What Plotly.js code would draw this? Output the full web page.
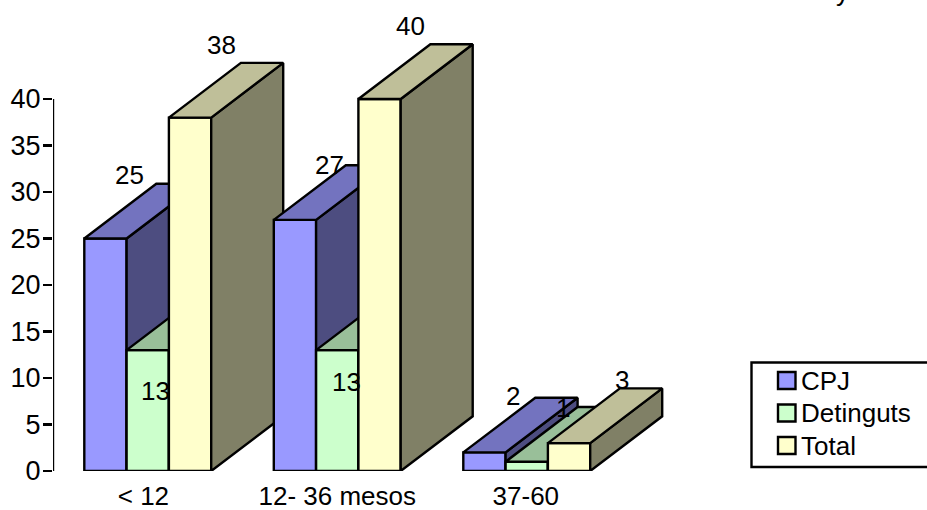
<!DOCTYPE html>
<html>
<head>
<meta charset="utf-8">
<script src="https://cdn.plot.ly/plotly-3.0.1.min.js"></script>
<style>html,body{margin:0;padding:0;background:#fff;overflow:hidden}</style>
</head>
<body>
<div id="chart" style="width:927px;height:510px"></div>
<script>
// Values per age group
const categories = ['< 12', '12- 36 mesos', '37-60'];
const seriesNames = ['CPJ', 'Detinguts', 'Total'];
const cpj = [25, 27, 2];
const detinguts = [13, 13, 1];
const total = [38, 40, 3];
const yTicks = [0, 5, 10, 15, 20, 25, 30, 35, 40];

// Face colours per series: front, top, side
const frontColors = ['#9999FF', '#CCFFCC', '#FFFFCC'];
const topColors = ['#7373BF', '#99BF99', '#BFBF99'];
const sideColors = ['#4D4D80', '#668066', '#808066'];

// Label nudges in pixels, per series and group
const labelDx = [[24, 35, 29], [7.5, 9, 36], [31.5, 31, 52.5]];
const labelDy = [[64, 55, 56], [-41, -32, 54], [73, 72.7, 63]];

// Geometry in axis units
const W = 927, H = 510, marginL = 53, marginB = 39;
const plotW = W - marginL, plotH = H - marginB;
const unitX = 189.5, unitY = 9.3;
const barW = 42.3 / unitX;
const depthX = 72 / unitX, depthY = 54.7 / unitY;
const tickPos = [0.477, 1.5, 2.495];
const fontFamily = 'Liberation Sans, Arial, sans-serif';
const fontSize = 26;
const ink = '#000000';
const edge = 2.4;

const values = [cpj, detinguts, total];
const traces = [];
const layout = {
  width: W, height: H,
  margin: {l: marginL, r: 0, t: 0, b: marginB, pad: 0},
  paper_bgcolor: '#fff', plot_bgcolor: 'rgba(0,0,0,0)',
  showlegend: false, barmode: 'overlay', hovermode: false,
  font: {family: fontFamily, size: fontSize, color: ink},
  annotations: [], shapes: []
};

const xRange = [0, plotW / unitX], yRange = [0, plotH / unitY];

// Each bar gets its own overlaid subplot so that nearer bars paint over farther ones
let layer = 0;
categories.forEach((cat, g) => {
  seriesNames.forEach((name, s) => {
    layer++;
    const sfx = layer === 1 ? '' : String(layer);
    const xa = 'x' + sfx, ya = 'y' + sfx;
    if (layer > 1) {
      layout['xaxis' + sfx] = {overlaying: 'x', range: xRange, visible: false, fixedrange: true};
      layout['yaxis' + sfx] = {overlaying: 'y', range: yRange, visible: false, fixedrange: true};
    }
    const v = values[s][g];
    const cx = g + 0.5 + (s - 1) * barW;
    const x0 = cx - barW / 2, x1 = cx + barW / 2;
    traces.push({
      type: 'bar', name: name, x: [cx], y: [v], width: [barW], xaxis: xa, yaxis: ya,
      cliponaxis: false,
      marker: {color: frontColors[s], line: {color: ink, width: edge}}
    });
    traces.push({
      type: 'scatter', mode: 'lines', fill: 'toself', fillcolor: sideColors[s],
      x: [x1, x1 + depthX, x1 + depthX, x1, x1],
      y: [0, depthY, v + depthY, v, 0],
      xaxis: xa, yaxis: ya, cliponaxis: false,
      line: {color: ink, width: edge}
    });
    traces.push({
      type: 'scatter', mode: 'lines', fill: 'toself', fillcolor: topColors[s],
      x: [x0, x1, x1 + depthX, x0 + depthX, x0],
      y: [v, v, v + depthY, v + depthY, v],
      xaxis: xa, yaxis: ya, cliponaxis: false,
      line: {color: ink, width: edge}
    });
    layout.annotations.push({
      xref: 'x', yref: 'y', x: cx, y: v, text: String(v), showarrow: false,
      xshift: labelDx[s][g], yshift: labelDy[s][g],
      font: {family: fontFamily, size: fontSize, color: ink}
    });
  });
});

// Vertical axis line stops at the top tick
traces.push({
  type: 'scatter', mode: 'lines', x: [0, 0], y: [yTicks[0], yTicks[yTicks.length - 1]],
  xaxis: 'x', yaxis: 'y', cliponaxis: false, line: {color: ink, width: edge}
});

layout.xaxis = {
  range: xRange, fixedrange: true, showgrid: false, zeroline: false, showline: false,
  tickmode: 'array', tickvals: tickPos, ticktext: categories, ticks: '', ticklabelstandoff: 7,
  tickfont: {family: fontFamily, size: fontSize, color: ink}
};
layout.yaxis = {
  range: yRange, fixedrange: true, showgrid: false, zeroline: false, showline: false,
  tickmode: 'array', tickvals: yTicks, ticktext: yTicks.map(String),
  ticks: 'outside', ticklen: 9, tickwidth: edge, tickcolor: ink, ticklabelstandoff: -3,
  tickfont: {family: fontFamily, size: 27, color: ink}
};

// Legend box, running off the right edge of the page
const px = x => (x - marginL) / plotW;
const py = y => 1 - y / plotH;
layout.shapes.push({
  type: 'rect', xref: 'paper', yref: 'paper',
  x0: px(751.5), x1: px(935), y0: py(467), y1: py(362.5),
  line: {color: ink, width: edge}, fillcolor: '#fff'
});
const legendRows = [380.5, 413, 445.5];
seriesNames.forEach((name, s) => {
  layout.shapes.push({
    type: 'rect', xref: 'paper', yref: 'paper',
    x0: px(778), x1: px(795.5), y0: py(legendRows[s] + 8.5), y1: py(legendRows[s] - 8.5),
    line: {color: ink, width: edge}, fillcolor: frontColors[s]
  });
  layout.annotations.push({
    xref: 'paper', yref: 'paper', x: px(798.5), y: py(legendRows[s]), text: name,
    xanchor: 'left', yanchor: 'middle', showarrow: false,
    font: {family: fontFamily, size: fontSize, color: ink}
  });
});

// Tail of a letter from a heading cut off by the top of the page
layout.annotations.push({
  xref: 'paper', yref: 'paper', x: px(842), y: py(-8), text: 'y', showarrow: false,
  xanchor: 'center', yanchor: 'middle', font: {family: fontFamily, size: fontSize, color: ink}
});

Plotly.newPlot('chart', traces, layout, {staticPlot: true, displayModeBar: false});
</script>
</body>
</html>
